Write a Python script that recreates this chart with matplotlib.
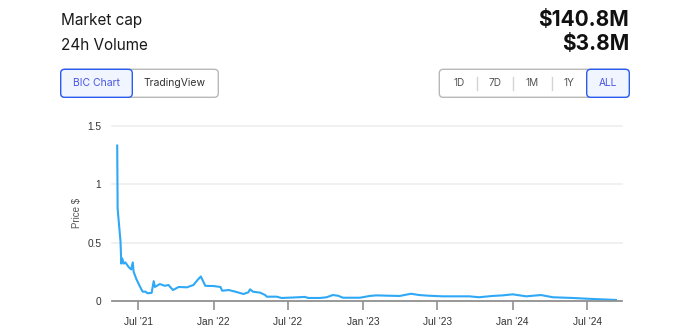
import matplotlib
matplotlib.use("Agg")
import matplotlib.pyplot as plt
from matplotlib.patches import FancyBboxPatch
import pandas as pd

# ---- data ----
dates = ["2021-05-11", "2021-05-12", "2021-05-19", "2021-05-21", "2021-05-23", "2021-05-27",
         "2021-05-31", "2021-06-08", "2021-06-14", "2021-06-18", "2021-06-20", "2021-06-27",
         "2021-07-06", "2021-07-12", "2021-07-19", "2021-07-24", "2021-08-03", "2021-08-08",
         "2021-08-11", "2021-08-23", "2021-09-04",
         "2021-09-13", "2021-09-24", "2021-10-08", "2021-10-28", "2021-11-13", "2021-11-23",
         "2021-12-01", "2021-12-12", "2022-01-01", "2022-01-18", "2022-01-22", "2022-02-07",
         "2022-02-23", "2022-03-15", "2022-03-27", "2022-03-31", "2022-04-07", "2022-04-25",
         "2022-05-07", "2022-05-11", "2022-06-04", "2022-06-16", "2022-07-15", "2022-08-12",
         "2022-08-20", "2022-09-18", "2022-10-04", "2022-10-19", "2022-11-01", "2022-11-13",
         "2022-12-24", "2023-01-17", "2023-02-02", "2023-03-07", "2023-03-31", "2023-04-16",
         "2023-04-28", "2023-05-18", "2023-06-11", "2023-07-14", "2023-09-17", "2023-10-11",
         "2023-11-12", "2023-12-07", "2024-01-01", "2024-02-03", "2024-03-10", "2024-04-08",
         "2024-05-26", "2024-06-28", "2024-07-30", "2024-09-09"]
prices = [1.33, 0.79, 0.51, 0.32, 0.365, 0.32,
          0.33, 0.29, 0.27, 0.33, 0.25, 0.185,
          0.12, 0.08, 0.08, 0.066, 0.07, 0.17,
          0.12, 0.145, 0.13,
          0.137, 0.094, 0.12, 0.117, 0.137, 0.18,
          0.21, 0.13, 0.128, 0.12, 0.088, 0.094,
          0.08, 0.06, 0.074, 0.10, 0.08, 0.071,
          0.051, 0.037, 0.037, 0.026, 0.03, 0.035,
          0.026, 0.026, 0.032, 0.051, 0.045, 0.028,
          0.028, 0.043, 0.048, 0.045, 0.043, 0.054,
          0.062, 0.051, 0.045, 0.04, 0.04, 0.032,
          0.043, 0.048, 0.057, 0.04, 0.051, 0.032,
          0.026, 0.02, 0.015, 0.009]
y_ticks = [0, 0.5, 1, 1.5]
y_tick_labels = ["0", "0.5", "1", "1.5"]
x_ticks = ["2021-07-01", "2022-01-01", "2022-07-01", "2023-01-01",
           "2023-07-01", "2024-01-01", "2024-07-01"]
x_tick_labels = ["Jul '21", "Jan '22", "Jul '22", "Jan '23", "Jul '23", "Jan '24", "Jul '24"]
market_cap = "$140.8M"
volume_24h = "$3.8M"
range_buttons = ["1D", "7D", "1M", "1Y", "ALL"]

W, H = 698, 332
fig = plt.figure(figsize=(W / 100, H / 100), dpi=100)
fig.patch.set_facecolor("white")

# ---- main chart ----
x0, x1, ytop, ybot = 112.3, 621.7, 125.7, 301
ax = fig.add_axes([x0 / W, (H - ybot) / H, (x1 - x0) / W, (ybot - ytop) / H])
d = pd.to_datetime(dates)
ax.plot(d, prices, color="#2fa8f6", lw=1.5, solid_joinstyle="round")
ax.set_xlim(pd.Timestamp("2021-04-29"), pd.Timestamp("2024-09-23"))
ax.set_ylim(0, 1.5)
for s in ["top", "left", "right"]:
    ax.spines[s].set_visible(False)
ax.spines["bottom"].set_color("#909090")
ax.spines["bottom"].set_linewidth(1.3)
ax.set_yticks(y_ticks)
ax.set_yticklabels(y_tick_labels, fontsize=7.3, color="#333333", family="Liberation Sans")
ax.tick_params(axis="y", length=0, pad=8)
ax.set_xticks(pd.to_datetime(x_ticks))
ax.set_xticklabels(x_tick_labels, fontsize=7.3, color="#333333", family="Liberation Sans")
ax.tick_params(axis="x", length=6.5, width=1.2, color="#909090", pad=5)
for v in y_ticks[1:]:
    ax.axhline(v, color="#eeeeee", lw=1.2, zorder=0, clip_on=False)
ax.set_ylabel("Price $", fontsize=7, color="#555555", family="Liberation Sans", labelpad=4)

# ---- overlay for header UI ----
ov = fig.add_axes([0, 0, 1, 1], facecolor="none")
ov.set_xlim(0, W)
ov.set_ylim(H, 0)
ov.axis("off")

ff = ["Inter", "DejaVu Sans"]
ov.text(61, 21, "Market cap", fontsize=11, color="#1a1a1a", family=ff, va="center", ha="left")
ov.text(61, 45, "24h Volume", fontsize=11, color="#1a1a1a", family=ff, va="center", ha="left")
ov.text(629, 20.5, market_cap, fontsize=15, color="#111111", family=ff, weight="bold",
        va="center", ha="right")
ov.text(629, 43.5, volume_24h, fontsize=15, color="#111111", family=ff, weight="bold",
        va="center", ha="right")

blue = "#2b5cf0"
# left toggle
ov.add_patch(FancyBboxPatch((60.7, 69.3), 157.6, 28, boxstyle="round,pad=0,rounding_size=4",
                            fc="white", ec="#b8b8b8", lw=1.0))
ov.add_patch(FancyBboxPatch((60.7, 69.3), 71.6, 28, boxstyle="round,pad=0,rounding_size=4",
                            fc="#f0f5ff", ec=blue, lw=1.0))
ov.text(96.5, 83.5, "BIC Chart", fontsize=7.5, color="#4a56e0", family=ff, ha="center", va="center")
ov.text(175, 83.5, "TradingView", fontsize=7.5, color="#333333", family=ff, ha="center", va="center")

# right range buttons
ov.add_patch(FancyBboxPatch((439.3, 69.3), 190, 28, boxstyle="round,pad=0,rounding_size=4",
                            fc="white", ec="#b8b8b8", lw=1.0))
ov.add_patch(FancyBboxPatch((586.7, 69.3), 42.6, 28, boxstyle="round,pad=0,rounding_size=4",
                            fc="#f0f5ff", ec=blue, lw=1.0))
for xd in [476.7, 513.3, 551.7]:
    ov.plot([xd, xd], [77, 90], color="#d4d4d4", lw=1.0)
bx = [459, 495, 532, 569, 607.7]
for xb, lab in zip(bx, range_buttons):
    ov.text(xb, 83.5, lab, fontsize=7.3, color="#4a56e0" if lab == "ALL" else "#555555",
            family=ff, ha="center", va="center")

fig.savefig("out.png", dpi=100)
